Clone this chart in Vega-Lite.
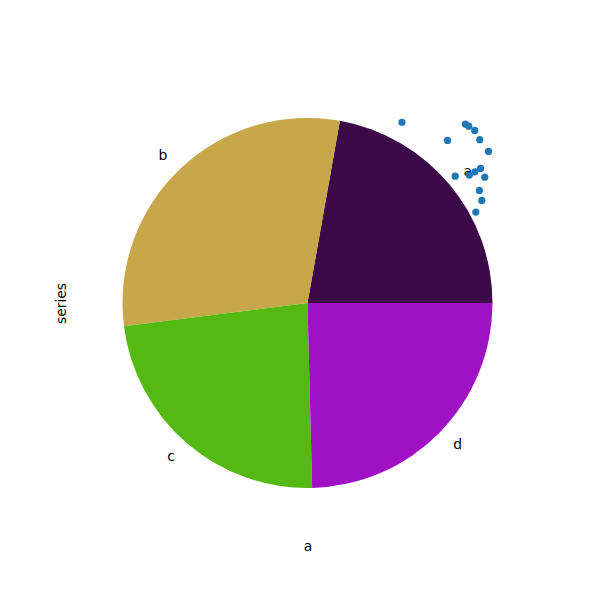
{
  "$schema": "https://vega.github.io/schema/vega-lite/v6.json",
  "width": 465,
  "height": 462,
  "autosize": "none",
  "padding": {"left": 75, "top": 72, "right": 60, "bottom": 66},
  "background": "white",
  "config": {"view": {"stroke": null}, "font": "DejaVu Sans"},
  "datasets": {
    "slices": [
      {"label": "a", "value": 0.222},
      {"label": "b", "value": 0.298},
      {"label": "c", "value": 0.234},
      {"label": "d", "value": 0.246}
    ],
    "points": [
      {"px": 0.508, "py": 0.978},
      {"px": 0.849, "py": 0.968},
      {"px": 0.867, "py": 0.957},
      {"px": 0.899, "py": 0.934},
      {"px": 0.753, "py": 0.880},
      {"px": 0.926, "py": 0.884},
      {"px": 0.973, "py": 0.820},
      {"px": 0.930, "py": 0.728},
      {"px": 0.900, "py": 0.710},
      {"px": 0.870, "py": 0.692},
      {"px": 0.794, "py": 0.686},
      {"px": 0.953, "py": 0.681},
      {"px": 0.924, "py": 0.609},
      {"px": 0.937, "py": 0.555},
      {"px": 0.905, "py": 0.492}
    ]
  },
  "layer": [
    {
      "data": {"name": "slices"},
      "mark": {"type": "arc", "radius": 185, "stroke": null},
      "encoding": {
        "theta": {"field": "value", "type": "quantitative", "stack": true,
          "scale": {"domain": [0, 1], "range": [1.5707963, -4.712389]}},
        "order": {"field": "label"},
        "color": {"field": "label", "type": "nominal", "legend": null,
          "scale": {"domain": ["a", "b", "c", "d"], "range": ["#3d0a49", "#c8a74b", "#55b913", "#a011c3"]}}
      }
    },
    {
      "data": {"name": "slices"},
      "mark": {"type": "text", "radius": 203.5, "align": "left", "baseline": "middle", "fontSize": 13.9, "color": "black", "font": "DejaVu Sans"},
      "encoding": {
        "theta": {"field": "value", "type": "quantitative", "stack": true,
          "scale": {"domain": [0, 1], "range": [1.5707963, -4.712389]}},
        "order": {"field": "label"},
        "detail": {"field": "label"},
        "text": {"condition": {"test": "datum.label == 'a' || datum.label == 'd'", "field": "label"}, "value": ""}
      }
    },
    {
      "data": {"name": "slices"},
      "mark": {"type": "text", "radius": 203.5, "align": "right", "baseline": "middle", "fontSize": 13.9, "color": "black", "font": "DejaVu Sans"},
      "encoding": {
        "theta": {"field": "value", "type": "quantitative", "stack": true,
          "scale": {"domain": [0, 1], "range": [1.5707963, -4.712389]}},
        "order": {"field": "label"},
        "detail": {"field": "label"},
        "text": {"condition": {"test": "datum.label == 'b' || datum.label == 'c'", "field": "label"}, "value": ""}
      }
    },
    {
      "data": {"name": "points"},
      "mark": {"type": "circle", "size": 52, "color": "#1f77b4", "opacity": 1},
      "encoding": {
        "x": {"field": "px", "type": "quantitative", "scale": {"domain": [-1.25, 1.25], "nice": false, "zero": false},
          "axis": {"title": "a", "labels": false, "ticks": false, "domain": false, "grid": false, "titleFont": "DejaVu Sans", "titleFontSize": 13.9, "titleFontWeight": "normal", "titlePadding": 5, "titleColor": "black"}},
        "y": {"field": "py", "type": "quantitative", "scale": {"domain": [-1.25, 1.25], "nice": false, "zero": false},
          "axis": {"title": "series", "labels": false, "ticks": false, "domain": false, "grid": false, "titleFont": "DejaVu Sans", "titleFontSize": 13.9, "titleFontWeight": "normal", "titlePadding": 7, "titleColor": "black"}}
      }
    }
  ]
}
